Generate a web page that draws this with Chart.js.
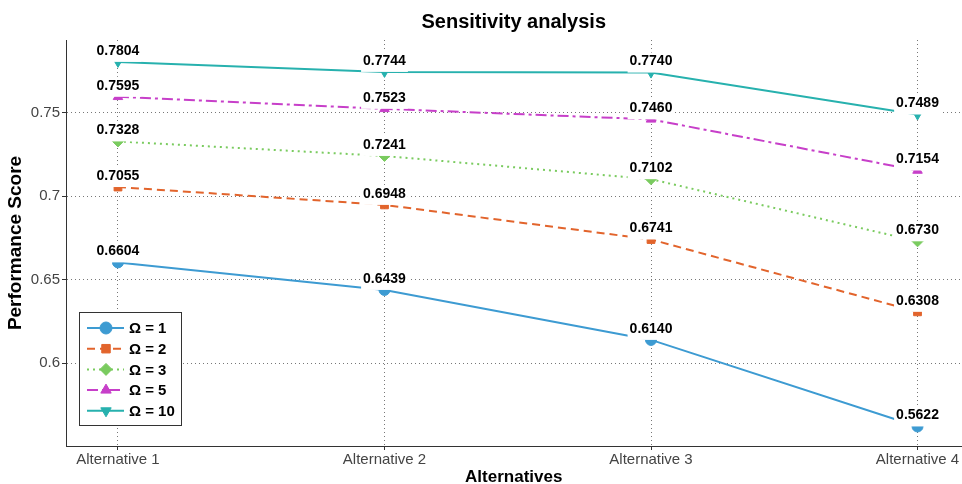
<!DOCTYPE html>
<html>
<head>
<meta charset="utf-8">
<script src="https://cdn.jsdelivr.net/npm/chart.js@4.4.1/dist/chart.umd.min.js"></script>
<style>
  html, body { margin: 0; padding: 0; background: #fff; overflow: hidden; }
  #wrap { width: 962px; height: 484px; overflow: hidden; }
</style>
</head>
<body>
<div id="wrap"><canvas id="chart" width="968" height="484"></canvas></div>
<script>
const categories = ["Alternative 1", "Alternative 2", "Alternative 3", "Alternative 4"];
const seriesNames = ["Ω = 1", "Ω = 2", "Ω = 3", "Ω = 5", "Ω = 10"];
const omega1 = [0.6604, 0.6439, 0.6140, 0.5622];
const omega2 = [0.7055, 0.6948, 0.6741, 0.6308];
const omega3 = [0.7328, 0.7241, 0.7102, 0.6730];
const omega5 = [0.7595, 0.7523, 0.7460, 0.7154];
const omega10 = [0.7804, 0.7744, 0.7740, 0.7489];
const yTicks = [0.6, 0.65, 0.7, 0.75];

const FONT = "'Liberation Sans', Arial, sans-serif";

// style per series: colour, dash, marker
const styles = [
  { color: "#3d9bd2", dash: [], marker: "circle", rot: 0 },
  { color: "#e2642c", dash: [8, 5], marker: "rect", rot: 0 },
  { color: "#7acb5f", dash: [2, 4], marker: "rectRot", rot: 0 },
  { color: "#c73fc9", dash: [11, 4, 3, 4], marker: "triangle", rot: 0 },
  { color: "#27b1ae", dash: [], marker: "triangle", rot: 180 },
];

const allSeries = [omega1, omega2, omega3, omega5, omega10];

const datasets = allSeries.map((values, i) => ({
  label: seriesNames[i],
  data: values.map((v, j) => ({ x: j + 1, y: v })),
  borderColor: styles[i].color,
  backgroundColor: styles[i].color,
  borderWidth: 2,
  borderDash: styles[i].dash,
  pointStyle: styles[i].marker,
  pointRotation: styles[i].rot,
  pointRadius: 5.5,
  pointBorderWidth: 1,
  tension: 0,
}));

// value labels sit on a white box that hides the line and the top of the marker
const valueLabels = {
  id: "valueLabels",
  afterDatasetsDraw(chart) {
    const ctx = chart.ctx;
    ctx.save();
    ctx.font = "bold 14px " + FONT;
    ctx.textAlign = "center";
    ctx.textBaseline = "middle";
    chart.data.datasets.forEach((ds, i) => {
      const meta = chart.getDatasetMeta(i);
      meta.data.forEach((pt, j) => {
        const text = ds.data[j].y.toFixed(4);
        const w = ctx.measureText(text).width + 4;
        ctx.fillStyle = "#fff";
        ctx.fillRect(pt.x - w / 2, pt.y - 20, w, 20);
        ctx.fillStyle = "#000";
        ctx.fillText(text, pt.x, pt.y - 11);
      });
    });
    ctx.restore();
  },
};

// legend box in the lower left corner of the plot
const boxLegend = {
  id: "boxLegend",
  afterDraw(chart) {
    const ctx = chart.ctx;
    const area = chart.chartArea;
    const x0 = area.left + 13, w = 102, h = 113;
    const y0 = area.bottom - 21 - h;
    ctx.save();
    ctx.fillStyle = "#fff";
    ctx.fillRect(x0, y0, w, h);
    ctx.strokeStyle = "#333";
    ctx.lineWidth = 1;
    ctx.strokeRect(x0 + 0.5, y0 + 0.5, w, h);
    ctx.font = "bold 15px " + FONT;
    ctx.textBaseline = "middle";
    chart.data.datasets.forEach((ds, i) => {
      const y = y0 + 16 + i * 20.7;
      ctx.strokeStyle = ds.borderColor;
      ctx.lineWidth = 2;
      ctx.setLineDash(ds.borderDash);
      ctx.beginPath();
      ctx.moveTo(x0 + 8, y);
      ctx.lineTo(x0 + 45, y);
      ctx.stroke();
      ctx.setLineDash([]);
      ctx.fillStyle = ds.backgroundColor;
      ctx.lineWidth = 1;
      Chart.helpers.drawPoint(ctx, {
        pointStyle: ds.pointStyle,
        rotation: ds.pointRotation,
        radius: 6,
        borderWidth: 1,
      }, x0 + 27, y);
      ctx.fillStyle = "#000";
      ctx.fillText(ds.label, x0 + 50, y + 1);
    });
    ctx.restore();
  },
};

new Chart(document.getElementById("chart"), {
  type: "line",
  data: { datasets },
  plugins: [valueLabels, boxLegend],
  options: {
    responsive: false,
    animation: false,
    layout: { padding: 0 },
    plugins: {
      legend: { display: false },
      tooltip: { enabled: false },
      title: {
        display: true,
        fullSize: false,
        text: "Sensitivity analysis",
        color: "#000",
        font: { family: FONT, size: 20, weight: "bold" },
        padding: { top: 10, bottom: 6 },
      },
    },
    scales: {
      x: {
        type: "linear",
        min: 0.805,
        max: 4.165,
        afterBuildTicks(scale) {
          scale.ticks = categories.map((c, i) => ({ value: i + 1 }));
        },
        afterFit(scale) {
          scale.height = 38;
          scale.paddingLeft = 0;
          scale.paddingRight = 0;
        },
        ticks: {
          callback: (v) => categories[v - 1],
          color: "#444",
          font: { family: FONT, size: 15 },
          padding: 1,
          maxRotation: 0,
        },
        grid: {
          color: "#777",
          tickBorderDash: [],
          tickLength: 4,
          tickColor: "#333",
        },
        border: { display: true, color: "#333", width: 1, dash: [1, 3] },
        title: {
          display: true,
          text: "Alternatives",
          color: "#000",
          font: { family: FONT, size: 17, weight: "bold", lineHeight: 0.8 },
          padding: { top: 0, bottom: 0 },
        },
      },
      y: {
        type: "linear",
        min: 0.5505,
        max: 0.7935,
        afterBuildTicks(scale) {
          scale.ticks = yTicks.map((v) => ({ value: v }));
        },
        afterFit(scale) { scale.width = 66; },
        ticks: {
          callback: (v) => String(v),
          color: "#444",
          font: { family: FONT, size: 15 },
          padding: 2,
        },
        grid: {
          color: "#777",
          tickBorderDash: [],
          tickLength: 4,
          tickColor: "#333",
        },
        border: { display: true, color: "#333", width: 1, dash: [1, 3] },
        title: {
          display: true,
          text: "Performance Score",
          color: "#000",
          font: { family: FONT, size: 19, weight: "bold" },
          padding: { top: 4, bottom: 0 },
        },
      },
    },
  },
});
</script>
</body>
</html>
